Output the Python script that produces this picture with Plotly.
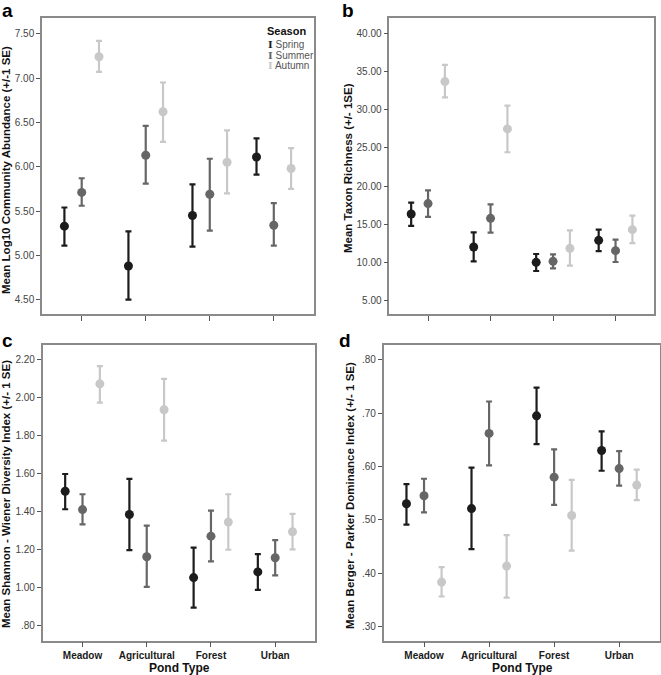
import plotly.graph_objects as go

W, H = 661, 675

pond_types = ["Meadow", "Agricultural", "Forest", "Urban"]
seasons = ["Spring", "Summer", "Autumn"]
season_colors = ["#1c1c1c", "#666666", "#c8c8c8"]

# Panel a: Mean Log10 Community Abundance (mean, upper, lower)
a_spring_mean = [5.33, 4.88, 5.45, 6.11]
a_spring_up = [5.54, 5.27, 5.80, 6.32]
a_spring_lo = [5.11, 4.50, 5.10, 5.91]
a_summer_mean = [5.71, 6.13, 5.69, 5.34]
a_summer_up = [5.87, 6.46, 6.09, 5.59]
a_summer_lo = [5.56, 5.81, 5.28, 5.11]
a_autumn_mean = [7.24, 6.62, 6.05, 5.98]
a_autumn_up = [7.42, 6.95, 6.41, 6.21]
a_autumn_lo = [7.07, 6.28, 5.70, 5.75]

# Panel b: Mean Taxon Richness
b_spring_mean = [16.33, 12.00, 9.99, 12.87]
b_spring_up = [17.82, 13.92, 11.08, 14.27]
b_spring_lo = [14.76, 10.12, 8.85, 11.47]
b_summer_mean = [17.69, 15.76, 10.12, 11.52]
b_summer_up = [19.44, 17.60, 11.04, 12.96]
b_summer_lo = [15.94, 13.88, 9.20, 10.03]
b_autumn_mean = [33.70, 27.49, 11.82, 14.27]
b_autumn_up = [35.89, 30.55, 14.19, 16.11]
b_autumn_lo = [31.64, 24.43, 9.55, 12.52]

# Panel c: Mean Shannon-Wiener Diversity Index
c_spring_mean = [1.507, 1.384, 1.051, 1.081]
c_spring_up = [1.598, 1.572, 1.209, 1.175]
c_spring_lo = [1.412, 1.196, 0.893, 0.986]
c_summer_mean = [1.410, 1.161, 1.270, 1.156]
c_summer_up = [1.491, 1.326, 1.405, 1.249]
c_summer_lo = [1.332, 1.002, 1.137, 1.063]
c_autumn_mean = [2.074, 1.937, 1.344, 1.293]
c_autumn_up = [2.168, 2.100, 1.491, 1.388]
c_autumn_lo = [1.975, 1.774, 1.198, 1.200]

# Panel d: Mean Berger-Parker Dominance Index
d_spring_mean = [0.530, 0.521, 0.695, 0.630]
d_spring_up = [0.567, 0.598, 0.748, 0.666]
d_spring_lo = [0.491, 0.445, 0.642, 0.592]
d_summer_mean = [0.545, 0.662, 0.580, 0.596]
d_summer_up = [0.577, 0.722, 0.632, 0.629]
d_summer_lo = [0.514, 0.602, 0.528, 0.564]
d_autumn_mean = [0.383, 0.413, 0.508, 0.565]
d_autumn_up = [0.411, 0.471, 0.575, 0.594]
d_autumn_lo = [0.356, 0.354, 0.442, 0.537]

a_ticks = [4.5, 5.0, 5.5, 6.0, 6.5, 7.0, 7.5]
a_ticktext = ["4.50", "5.00", "5.50", "6.00", "6.50", "7.00", "7.50"]
b_ticks = [5, 10, 15, 20, 25, 30, 35, 40]
b_ticktext = ["5.00", "10.00", "15.00", "20.00", "25.00", "30.00", "35.00", "40.00"]
c_ticks = [0.8, 1.0, 1.2, 1.4, 1.6, 1.8, 2.0, 2.2]
c_ticktext = [".80", "1.00", "1.20", "1.40", "1.60", "1.80", "2.00", "2.20"]
d_ticks = [0.3, 0.4, 0.5, 0.6, 0.7, 0.8]
d_ticktext = [".30", ".40", ".50", ".60", ".70", ".80"]

panels = [
    dict(key="a", ax="", series=[(a_spring_mean, a_spring_up, a_spring_lo),
                                 (a_summer_mean, a_summer_up, a_summer_lo),
                                 (a_autumn_mean, a_autumn_up, a_autumn_lo)],
         box=(42, 313.5, 18.3, 314), yrange=[4.339, 7.674], ticks=a_ticks, ticktext=a_ticktext,
         title="Mean Log10 Community Abundance (+/-1 SE)", tx=6, ty=170, showcat=False),
    dict(key="b", ax="2", series=[(b_spring_mean, b_spring_up, b_spring_lo),
                                  (b_summer_mean, b_summer_up, b_summer_lo),
                                  (b_autumn_mean, b_autumn_up, b_autumn_lo)],
         box=(389.3, 654.3, 18.3, 314), yrange=[3.21, 42.0], ticks=b_ticks, ticktext=b_ticktext,
         title="Mean Taxon Richness (+/- 1SE)", tx=348, ty=168, showcat=False),
    dict(key="c", ax="3", series=[(c_spring_mean, c_spring_up, c_spring_lo),
                                  (c_summer_mean, c_summer_up, c_summer_lo),
                                  (c_autumn_mean, c_autumn_up, c_autumn_lo)],
         box=(42.7, 315, 345, 640.7), yrange=[0.718, 2.279], ticks=c_ticks, ticktext=c_ticktext,
         title="Mean Shannon - Wiener Diversity Index (+/- 1 SE)", tx=6, ty=494, showcat=True),
    dict(key="d", ax="4", series=[(d_spring_mean, d_spring_up, d_spring_lo),
                                  (d_summer_mean, d_summer_up, d_summer_lo),
                                  (d_autumn_mean, d_autumn_up, d_autumn_lo)],
         box=(383.7, 659.5, 345, 640.7), yrange=[0.273, 0.828], ticks=d_ticks, ticktext=d_ticktext,
         title="Mean Berger - Parker Dominance Index (+/- 1 SE)", tx=350, ty=495, showcat=True),
]

offsets = [-0.27, 0.0, 0.27]
fig = go.Figure()
layout = dict(width=W, height=H, margin=dict(l=0, r=0, t=0, b=0),
              paper_bgcolor="white", plot_bgcolor="white", showlegend=False,
              font=dict(family="Liberation Sans, Arial, sans-serif", color="#333333"))
annotations = []
FRAME = "#8a8a8a"

for p in panels:
    ax = p["ax"]
    for si, (mean, up, lo) in enumerate(p["series"]):
        xs = [i + offsets[si] for i in range(len(pond_types))]
        fig.add_trace(go.Scatter(
            x=xs, y=mean, mode="markers", name=seasons[si],
            marker=dict(color=season_colors[si], size=9),
            error_y=dict(type="data", symmetric=False,
                         array=[u - m for u, m in zip(up, mean)],
                         arrayminus=[m - l for m, l in zip(mean, lo)],
                         color=season_colors[si], thickness=2.2, width=3),
            xaxis="x" + ax, yaxis="y" + ax, showlegend=False))
    x0, x1, y0, y1 = p["box"]
    cat_text = ["<b>" + c + "</b>" for c in pond_types] if p["showcat"] else ["", "", "", ""]
    layout["xaxis" + ax] = dict(
        domain=[x0 / W, x1 / W], range=[-0.62, 3.62], anchor="y" + ax,
        tickvals=[0, 1, 2, 3], ticktext=cat_text,
        ticks="outside", ticklen=5, tickwidth=1.2, tickcolor="#555555",
        tickfont=dict(size=10, color="#1a1a1a", family="Liberation Sans, Arial"),
        ticklabelstandoff=0,
        showline=True, linecolor=FRAME, linewidth=1.5, mirror=True,
        showgrid=False, zeroline=False, fixedrange=True)
    layout["yaxis" + ax] = dict(
        domain=[1 - y1 / H, 1 - y0 / H], range=p["yrange"], anchor="x" + ax,
        tickvals=p["ticks"], ticktext=p["ticktext"],
        ticks="outside", ticklen=4, tickwidth=1.2, tickcolor="#555555",
        tickfont=dict(size=10, color="#444444"),
        showline=True, linecolor=FRAME, linewidth=1.5, mirror=True,
        showgrid=False, zeroline=False, fixedrange=True)
    annotations.append(dict(text="<b>" + p["title"] + "</b>", x=p["tx"] / W, y=1 - p["ty"] / H,
                            xref="paper", yref="paper", textangle=-90, showarrow=False,
                            xanchor="center", yanchor="middle",
                            font=dict(size=11.5, color="#111111")))

# Panel letters
for letter, lx, ly in [("a", 0, -2), ("b", 340, -2), ("c", 0, 328), ("d", 337, 328)]:
    annotations.append(dict(text="<b>" + letter + "</b>", x=lx / W, y=1 - ly / H,
                            xref="paper", yref="paper", showarrow=False,
                            xanchor="left", yanchor="top",
                            font=dict(size=19, color="#000000")))

# Pond Type titles
for cx in [179, 522]:
    annotations.append(dict(text="<b>Pond Type</b>", x=cx / W, y=1 - 668 / H,
                            xref="paper", yref="paper", showarrow=False,
                            xanchor="center", yanchor="middle",
                            font=dict(size=12, color="#111111")))

# Legend in panel a
annotations.append(dict(text="<b>Season</b>", x=286 / W, y=1 - 31 / H, xref="paper", yref="paper",
                        showarrow=False, xanchor="center", yanchor="middle",
                        font=dict(size=11, color="#111111")))
for si, yy in enumerate([45, 55, 65]):
    annotations.append(dict(
        text="<span style='font-family:DejaVu Serif;font-weight:bold;color:%s'>I</span> %s" % (season_colors[si], seasons[si]),
        x=266 / W, y=1 - yy / H, xref="paper", yref="paper", showarrow=False,
        xanchor="left", yanchor="middle", font=dict(size=10, color="#555555")))

layout["annotations"] = annotations
fig.update_layout(**layout)
fig.write_html("out.html", config={"displayModeBar": False},
               post_script="document.body.style.margin='0';document.body.style.overflow='hidden';")
